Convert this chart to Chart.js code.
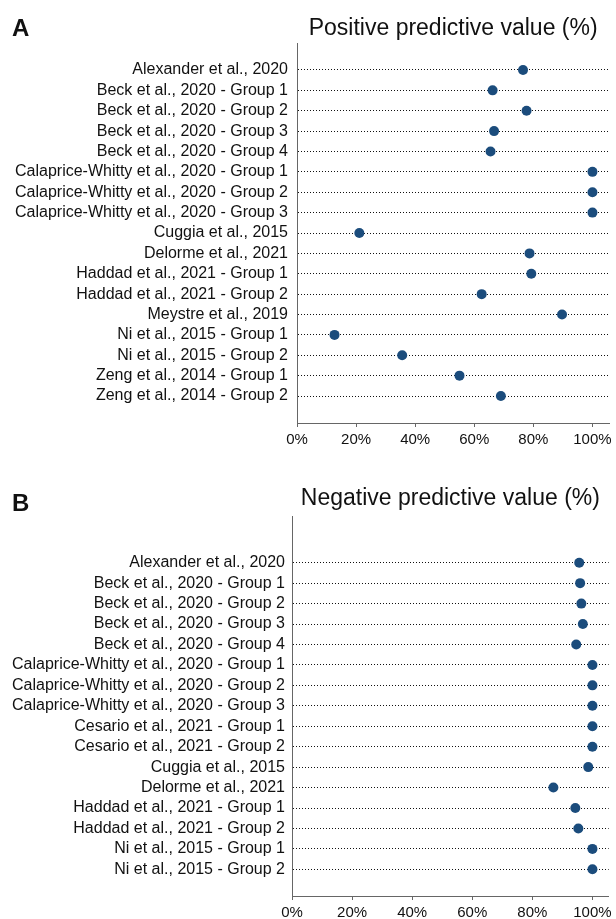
<!DOCTYPE html>
<html>
<head>
<meta charset="utf-8">
<script src="https://cdn.jsdelivr.net/npm/chart.js@4/dist/chart.umd.min.js"></script>
<style>
  body { margin: 0; background: #fff; font-family: "Liberation Sans", Arial, sans-serif; }
  .panel { position: absolute; left: 0; width: 616px; }
  .tag { position: absolute; left: 12px; font-weight: bold; font-size: 24px; color: #111; }
</style>
</head>
<body>
<div class="panel" style="top:0;height:460px">
  <canvas id="ppv" width="616" height="460"></canvas>
  <div class="tag" style="top:14px">A</div>
</div>
<div class="panel" style="top:460px;height:459px">
  <canvas id="npv" width="616" height="459"></canvas>
  <div class="tag" style="top:29px">B</div>
</div>
<script>
// panel A - positive predictive value
const ppvStudies = [
  'Alexander et al., 2020',
  'Beck et al., 2020 - Group 1',
  'Beck et al., 2020 - Group 2',
  'Beck et al., 2020 - Group 3',
  'Beck et al., 2020 - Group 4',
  'Calaprice-Whitty et al., 2020 - Group 1',
  'Calaprice-Whitty et al., 2020 - Group 2',
  'Calaprice-Whitty et al., 2020 - Group 3',
  'Cuggia et al., 2015',
  'Delorme et al., 2021',
  'Haddad et al., 2021 - Group 1',
  'Haddad et al., 2021 - Group 2',
  'Meystre et al., 2019',
  'Ni et al., 2015 - Group 1',
  'Ni et al., 2015 - Group 2',
  'Zeng et al., 2014 - Group 1',
  'Zeng et al., 2014 - Group 2'
];
const ppvValues = [76.5, 66.2, 77.7, 66.7, 65.5, 100, 100, 100, 21.1, 78.7, 79.3, 62.5, 89.7, 12.7, 35.6, 55.0, 69.0];

// panel B - negative predictive value
const npvStudies = [
  'Alexander et al., 2020',
  'Beck et al., 2020 - Group 1',
  'Beck et al., 2020 - Group 2',
  'Beck et al., 2020 - Group 3',
  'Beck et al., 2020 - Group 4',
  'Calaprice-Whitty et al., 2020 - Group 1',
  'Calaprice-Whitty et al., 2020 - Group 2',
  'Calaprice-Whitty et al., 2020 - Group 3',
  'Cesario et al., 2021 - Group 1',
  'Cesario et al., 2021 - Group 2',
  'Cuggia et al., 2015',
  'Delorme et al., 2021',
  'Haddad et al., 2021 - Group 1',
  'Haddad et al., 2021 - Group 2',
  'Ni et al., 2015 - Group 1',
  'Ni et al., 2015 - Group 2'
];
const npvValues = [95.6, 95.9, 96.3, 96.8, 94.6, 100, 100, 100, 100, 100, 98.6, 87.0, 94.3, 95.3, 100, 100];

const xTickValues = [0, 20, 40, 60, 80, 100];

const FONT = '"Liberation Sans", Arial, sans-serif';
const DOT = '#1b4c7c';

function dotPlot(id, title, labels, values, g) {
  const ctx = document.getElementById(id).getContext('2d');
  return new Chart(ctx, {
    type: 'scatter',
    data: {
      datasets: [{
        data: values.map((v, i) => ({ x: v, y: i })),
        backgroundColor: DOT,
        borderWidth: 0,
        pointRadius: 5,
        pointHoverRadius: 5
      }]
    },
    options: {
      responsive: false,
      animation: false,
      layout: { padding: { left: 0, right: g.padRight, top: 0, bottom: 0 } },
      plugins: {
        legend: { display: false },
        tooltip: { enabled: false },
        title: {
          display: true,
          text: title,
          fullSize: false,
          color: '#111',
          font: { family: FONT, size: 23, weight: 'normal', lineHeight: 1.2 },
          padding: { top: g.titleTop, bottom: g.titleBottom }
        }
      },
      scales: {
        x: {
          type: 'linear',
          min: 0,
          max: g.xMax,
          afterBuildTicks: s => { s.ticks = xTickValues.map(v => ({ value: v })); },
          afterFit: s => { s.height = g.xHeight; },
          grid: { drawOnChartArea: false, drawTicks: true, tickLength: 4, tickColor: '#666' },
          border: { color: '#666', width: 1 },
          ticks: {
            color: '#111',
            padding: g.xPad,
            font: { family: FONT, size: 15 },
            callback: v => v + '%'
          }
        },
        y: {
          type: 'linear',
          reverse: true,
          min: g.yMin,
          max: g.yMax,
          afterBuildTicks: s => { s.ticks = labels.map((_, i) => ({ value: i })); },
          afterFit: s => { s.width = g.yWidth; },
          grid: { color: '#111', lineWidth: 1, drawTicks: false },
          border: { color: '#666', width: 1, dash: [1, 2] },
          ticks: {
            autoSkip: false,
            color: '#111',
            padding: g.yPad,
            font: { family: FONT, size: 16 },
            callback: v => labels[v]
          }
        }
      }
    }
  });
}

dotPlot('ppv', 'Positive predictive value (%)', ppvStudies, ppvValues, {
  padRight: 4, titleTop: 15, titleBottom: 0.4, xHeight: 37, xPad: 4, yPad: 9,
  yWidth: 297, yMin: -1.325, yMax: 17.325, xMax: 105.7
});

dotPlot('npv', 'Negative predictive value (%)', npvStudies, npvValues, {
  padRight: 5, titleTop: 25, titleBottom: 3.4, xHeight: 23, xPad: 4, yPad: 7,
  yWidth: 292, yMin: -2.285, yMax: 16.305, xMax: 105.4
});
</script>
</body>
</html>
